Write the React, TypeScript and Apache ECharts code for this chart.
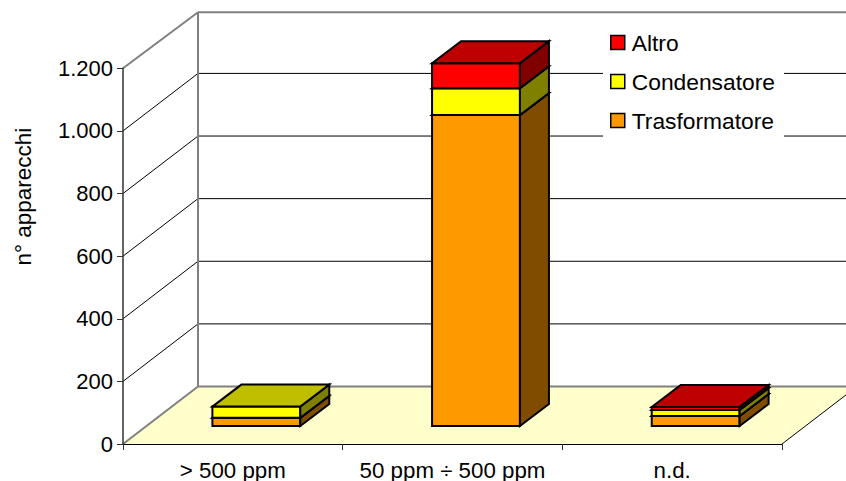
import React, { useEffect, useRef } from "react";
import * as echarts from "echarts";

const categories = ["> 500 ppm", "50 ppm ÷ 500 ppm", "n.d."];
const trasformatore = [26, 993, 32];
const condensatore = [36, 86, 19];
const altro = [0, 80, 10];
const yTicks = [200, 400, 600, 800, 1000, 1200];

const FONT = "Liberation Sans, Arial, sans-serif";
const DEPTH_X = 75;
const DEPTH_Y = 57.5;
const TOP_DEPTH_Y = 56;
const BAR_DX = 29;
const BAR_DY = 22;
const BAR_OFF_X = 23.5;
const BAR_OFF_Y = 18;

const palette = {
  Trasformatore: { front: "#FF9900", side: "#804D00", top: "#BF7300" },
  Condensatore: { front: "#FFFF00", side: "#808000", top: "#BFBF00" },
  Altro: { front: "#FF0000", side: "#800000", top: "#BF0000" },
};

function segmentSeries(name: keyof typeof palette, values: number[], below: number[][]) {
  const col = palette[name];
  const data = values.map((v, i) => {
    const base = below.reduce((s, arr) => s + arr[i], 0);
    return [i, base, base + v];
  });
  return {
    name,
    type: "custom",
    z: 6,
    itemStyle: { color: col.front },
    encode: { x: 0, y: [1, 2] },
    data,
    renderItem: (_p: any, api: any) => {
      const cat = api.value(0);
      const lo = api.value(1);
      const hi = api.value(2);
      if (hi <= lo) return { type: "group", children: [] };
      const w = api.size([1, 0])[0] * 0.4;
      const a = api.coord([cat, lo]);
      const b = api.coord([cat, hi]);
      const x0 = a[0] + BAR_OFF_X - w / 2;
      const x1 = x0 + w;
      const y0 = a[1] - BAR_OFF_Y;
      const y1 = b[1] - BAR_OFF_Y;
      const st = (fill: string) => ({
        fill,
        stroke: "#000",
        lineWidth: 2,
        lineJoin: "miter",
      });
      return {
        type: "group",
        children: [
          { type: "polygon", shape: { points: [[x0, y0], [x1, y0], [x1, y1], [x0, y1]] }, style: st(col.front) },
          { type: "polygon", shape: { points: [[x1, y0], [x1 + BAR_DX, y0 - BAR_DY], [x1 + BAR_DX, y1 - BAR_DY], [x1, y1]] }, style: st(col.side) },
          { type: "polygon", shape: { points: [[x0, y1], [x1, y1], [x1 + BAR_DX, y1 - BAR_DY], [x0 + BAR_DX, y1 - BAR_DY]] }, style: st(col.top) },
        ],
      };
    },
  };
}

function wallsSeries() {
  return {
    type: "custom",
    name: "walls",
    z: 1,
    silent: true,
    encode: { x: 0, y: 1 },
    data: [[0, 0]],
    renderItem: (params: any, api: any) => {
      const g = params.coordSys;
      const left = g.x;
      const right = g.x + g.width;
      const bottom = g.y + g.height;
      const top = g.y;
      const farRight = right + DEPTH_X;
      const gray = { stroke: "#808080", lineWidth: 2, fill: "none" };
      const thin = { stroke: "#000", lineWidth: 1, fill: "none" };
      const children: any[] = [
        {
          type: "polygon",
          shape: {
            points: [[left, bottom], [right, bottom], [farRight, bottom - DEPTH_Y], [left + DEPTH_X, bottom - DEPTH_Y]],
          },
          style: { fill: "#FFFFCC" },
        },
      ];
      yTicks.slice(0, -1).forEach((t) => {
        const y = api.coord([0, t])[1];
        children.push({ type: "line", shape: { x1: left, y1: y, x2: left + DEPTH_X, y2: y - DEPTH_Y }, style: thin });
        children.push({ type: "line", shape: { x1: left + DEPTH_X, y1: y - DEPTH_Y, x2: farRight, y2: y - DEPTH_Y }, style: thin });
      });
      children.push(
        { type: "line", shape: { x1: right, y1: bottom, x2: farRight, y2: bottom - DEPTH_Y }, style: thin },
        { type: "line", shape: { x1: left + DEPTH_X, y1: top - TOP_DEPTH_Y, x2: left + DEPTH_X, y2: bottom - DEPTH_Y }, style: gray },
        { type: "line", shape: { x1: left + DEPTH_X, y1: bottom - DEPTH_Y, x2: farRight, y2: bottom - DEPTH_Y }, style: gray },
        { type: "line", shape: { x1: left + DEPTH_X, y1: top - TOP_DEPTH_Y, x2: farRight, y2: top - TOP_DEPTH_Y }, style: gray },
        { type: "line", shape: { x1: left, y1: top, x2: left + DEPTH_X, y2: top - TOP_DEPTH_Y }, style: gray },
        { type: "line", shape: { x1: left, y1: bottom, x2: left + DEPTH_X, y2: bottom - DEPTH_Y }, style: gray }
      );
      return { type: "group", children };
    },
  };
}

export default function App() {
  const ref = useRef<HTMLDivElement>(null);
  useEffect(() => {
    const chart = echarts.init(ref.current!, null, { renderer: "svg" });
    chart.setOption({
      animation: false,
      backgroundColor: "#fff",
      grid: { left: 123, top: 68.3, width: 659, height: 376, containLabel: false },
      legend: {
        orient: "vertical",
        left: 603,
        top: 27,
        data: ["Altro", "Condensatore", "Trasformatore"],
        icon: "rect",
        itemWidth: 14,
        itemHeight: 14,
        itemGap: 16,
        padding: [4, 9, 7, 7],
        backgroundColor: "#fff",
        selectedMode: false,
        itemStyle: { borderColor: "#000", borderWidth: 1.5 },
        textStyle: { color: "#000", fontFamily: FONT, fontSize: 22.8, padding: [0, 0, 0, 2] },
      },
      xAxis: {
        type: "category",
        z: 5,
        data: categories,
        axisLine: { show: true, lineStyle: { color: "#000", width: 1 } },
        axisTick: { show: true, length: 6, lineStyle: { color: "#333", width: 1 } },
        axisLabel: { color: "#000", fontFamily: FONT, fontSize: 22.3, margin: 15, interval: 0 },
        splitLine: { show: false },
      },
      yAxis: {
        type: "value",
        z: 5,
        min: 0,
        max: 1200,
        interval: 200,
        name: "n° apparecchi",
        nameLocation: "middle",
        nameGap: 88,
        nameRotate: 90,
        nameTextStyle: { color: "#000", fontFamily: FONT, fontSize: 22.5, padding: [0, 0, 0, 119] },
        axisLine: { show: true, lineStyle: { color: "#333", width: 1.5 } },
        axisTick: { show: true, length: 6, lineStyle: { color: "#333", width: 1 } },
        axisLabel: {
          color: "#000",
          fontFamily: FONT,
          fontSize: 22,
          margin: 10,
          formatter: (v: number) => String(v).replace(/\B(?=(\d{3})+$)/g, "."),
        },
        splitLine: { show: false },
      },
      series: [
        wallsSeries(),
        segmentSeries("Trasformatore", trasformatore, []),
        segmentSeries("Condensatore", condensatore, [trasformatore]),
        segmentSeries("Altro", altro, [trasformatore, condensatore]),
      ],
    });
    return () => chart.dispose();
  }, []);
  return <div ref={ref} style={{ position: "fixed", left: 0, top: 0, width: 846, height: 481 }} />;
}
